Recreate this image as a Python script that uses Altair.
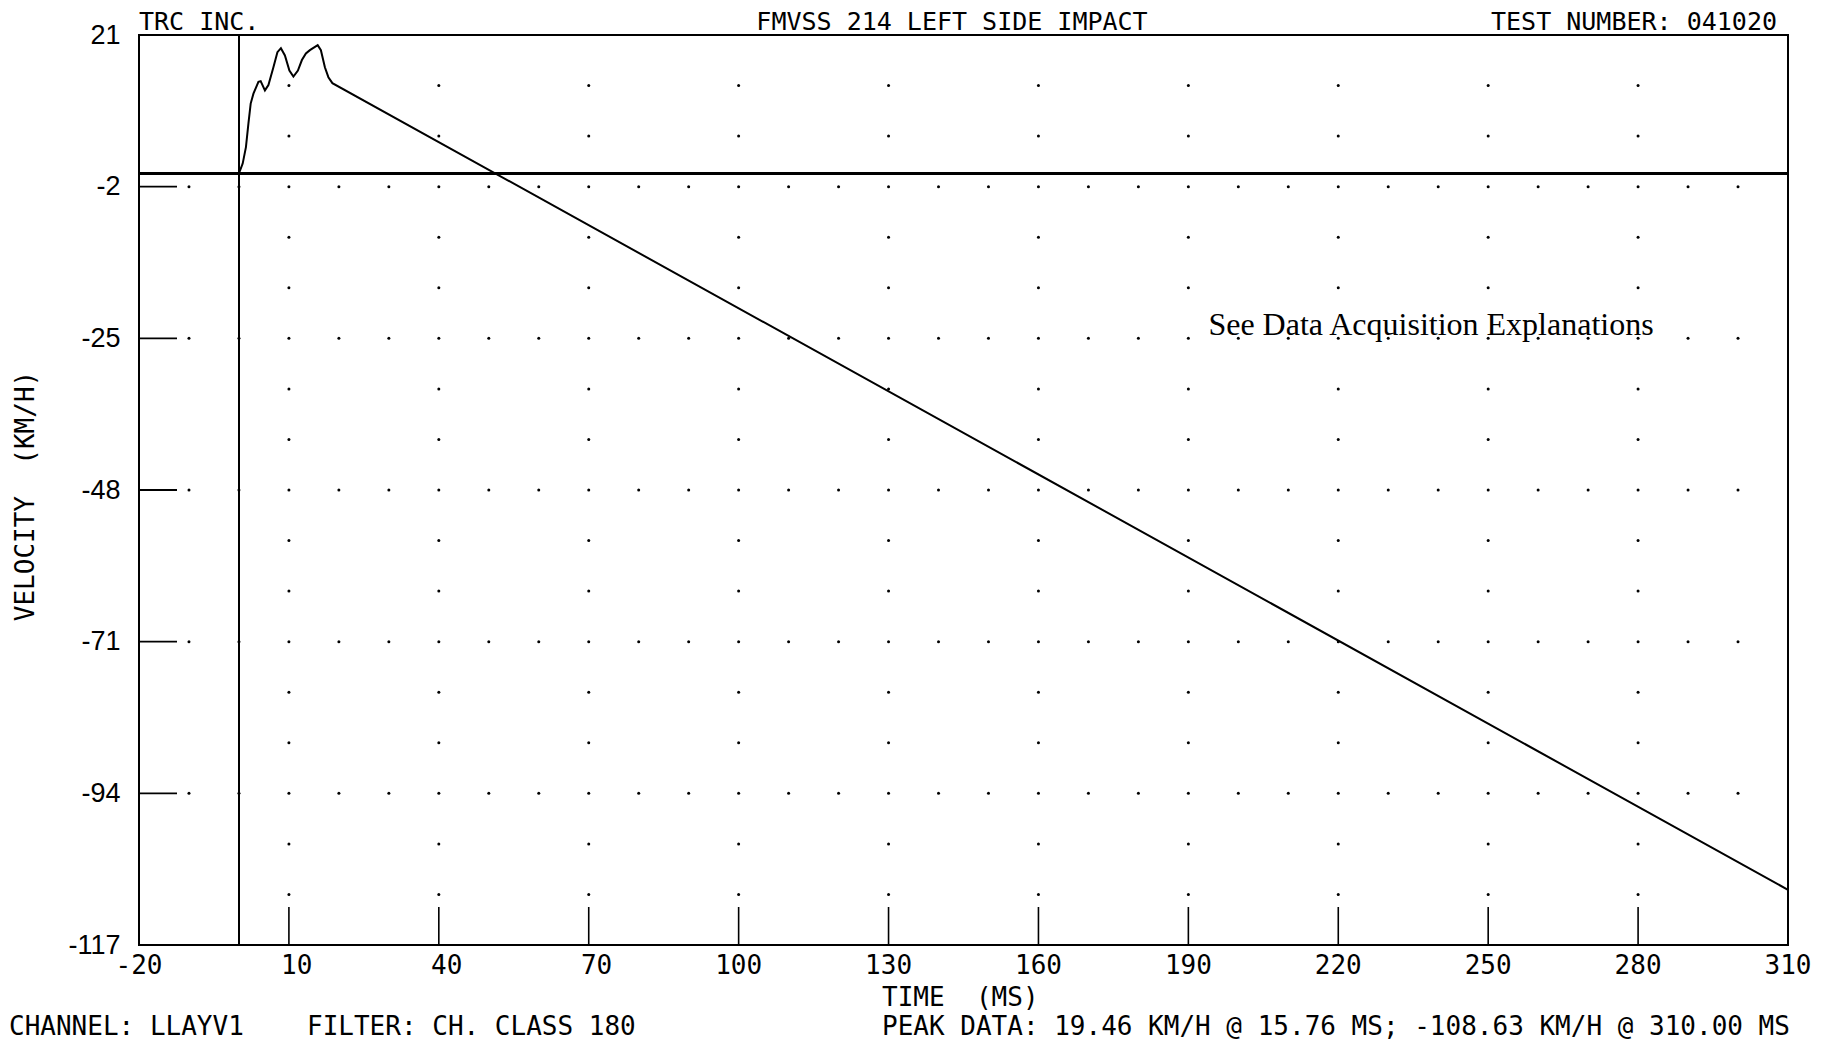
import altair as alt
import pandas as pd

# ---- data ----
TIME_MS = [0.0, 0.75, 1.4, 1.9, 2.35, 2.9, 3.9, 4.35, 5.2, 5.9, 6.9, 7.7, 8.4, 9.2,
           10.1, 10.9, 11.8, 12.6, 13.4, 14.2, 15.76, 16.4, 17.2, 17.9, 18.7, 310.0]
VELOCITY = [0.0, 1.5, 4.0, 7.6, 10.6, 12.1, 13.9, 14.0, 12.6, 13.4, 16.1, 18.4, 19.0, 17.9,
            15.6, 14.7, 15.6, 17.2, 18.2, 18.7, 19.46, 18.7, 16.1, 14.6, 13.7, -108.63]

X_TICKS = [-20, 10, 40, 70, 100, 130, 160, 190, 220, 250, 280, 310]
Y_TICKS = [21, -2, -25, -48, -71, -94, -117]

X_DOMAIN = [-20, 310]
Y_DOMAIN = [-117, 21]

# ---- grid dots (decoration derived from the tick lists) ----
major_rows = Y_TICKS[1:-1]
minor_rows = []
for i in range(len(Y_TICKS) - 1):
    step = (Y_TICKS[i] - Y_TICKS[i + 1]) / 3
    minor_rows += [Y_TICKS[i] - step, Y_TICKS[i] - 2 * step]
fine_cols = list(range(-10, 301, 10))
coarse_cols = X_TICKS[1:-1]
dots = [{"t": c, "v": r} for r in major_rows for c in fine_cols]
dots += [{"t": c, "v": r} for r in minor_rows for c in coarse_cols]
dots_df = pd.DataFrame(dots)

curve_df = pd.DataFrame({"t": TIME_MS, "v": VELOCITY})
xt_df = pd.DataFrame({"t": X_TICKS[1:-1]})
yt_df = pd.DataFrame({"v": Y_TICKS[1:-1]})

MONO = "DejaVu Sans Mono"
NB = "\u00a0"

xs = alt.Scale(domain=X_DOMAIN, nice=False, zero=False)
ys = alt.Scale(domain=Y_DOMAIN, nice=False, zero=False)

# labels right-aligned in a 3-character field centred on each tick
x_axis = alt.Axis(values=X_TICKS, labelExpr="datum.value + ''",
                  labelFont=MONO, labelFontSize=26, labelColor="black", title=None,
                  domain=False, ticks=False, tickSize=0, grid=False, labelPadding=7,
                  labelFlush=False, labelAlign="right", labelOffset=23)
y_axis = alt.Axis(values=Y_TICKS, labelExpr="datum.value + ''", labelFont="Liberation Sans",
                  labelFontSize=27, labelColor="black", title=None, domain=False,
                  ticks=False, tickSize=0, grid=False, labelPadding=19, labelFlush=False)

base_curve = alt.Chart(curve_df).mark_line(color="black", strokeWidth=2).encode(
    x=alt.X("t:Q", scale=xs, axis=x_axis),
    y=alt.Y("v:Q", scale=ys, axis=y_axis),
)

grid = alt.Chart(dots_df).mark_circle(color="black", size=9, opacity=1).encode(
    x=alt.X("t:Q", scale=xs), y=alt.Y("v:Q", scale=ys)
)

zero_h = alt.Chart(curve_df).mark_rule(color="black", strokeWidth=1.4).encode(
    y=alt.datum(0, scale=ys)
)
zero_v = alt.Chart(curve_df).mark_rule(color="black", strokeWidth=1.6).encode(
    x=alt.datum(0, scale=xs)
)

xticks = alt.Chart(xt_df).mark_tick(orient="vertical", size=38, yOffset=-19,
                                    color="black", thickness=1.6, opacity=1).encode(
    x=alt.X("t:Q", scale=xs), y=alt.datum(-117)
)
yticks = alt.Chart(yt_df).mark_tick(orient="horizontal", size=38, xOffset=19,
                                    color="black", thickness=1.8, opacity=1).encode(
    y=alt.Y("v:Q", scale=ys), x=alt.datum(-20)
)

one = pd.DataFrame({"k": [0]})


def label(text, x, y, align="left", font=MONO, size=26, angle=0, baseline="alphabetic"):
    kw = dict(text=text, align=align, font=font, fontSize=size, color="black",
              baseline=baseline)
    if angle:
        kw["angle"] = angle
    return alt.Chart(one).mark_text(**kw).encode(x=alt.value(x), y=alt.value(y))


texts = [
    label("TRC INC.", 0, -25, size=25, baseline="top"),
    label("FMVSS 214 LEFT SIDE IMPACT", 813, -25, align="center", size=25, baseline="top"),
    label("TEST NUMBER: 041020", 1638, -25, align="right", size=25, baseline="top"),
    label("TIME" + NB + NB + "(MS)", 743, 971),
    label("CHANNEL: LLAYV1", -130, 1000),
    label("FILTER: CH. CLASS 180", 168, 1000),
    label("PEAK DATA: 19.46 KM/H @ 15.76 MS; -108.63 KM/H @ 310.00 MS", 743, 1000),
    label("VELOCITY" + NB + NB + "(KM/H)", -113, 461, align="center", angle=270,
          baseline="middle"),
    label("See Data Acquisition Explanations", 1292, 300, align="center",
          font="Liberation Serif", size=32),
]

chart = alt.layer(grid, zero_h, zero_v, xticks, yticks, base_curve, *texts).properties(
    width=1649, height=910,
    autosize=alt.AutoSizeParams(type="none"),
    padding={"left": 131, "top": 27, "right": 30, "bottom": 96},
    background="white",
).configure_view(stroke="black", strokeWidth=2)

chart.save("out.html", embed_options={"renderer": "svg", "actions": False})
